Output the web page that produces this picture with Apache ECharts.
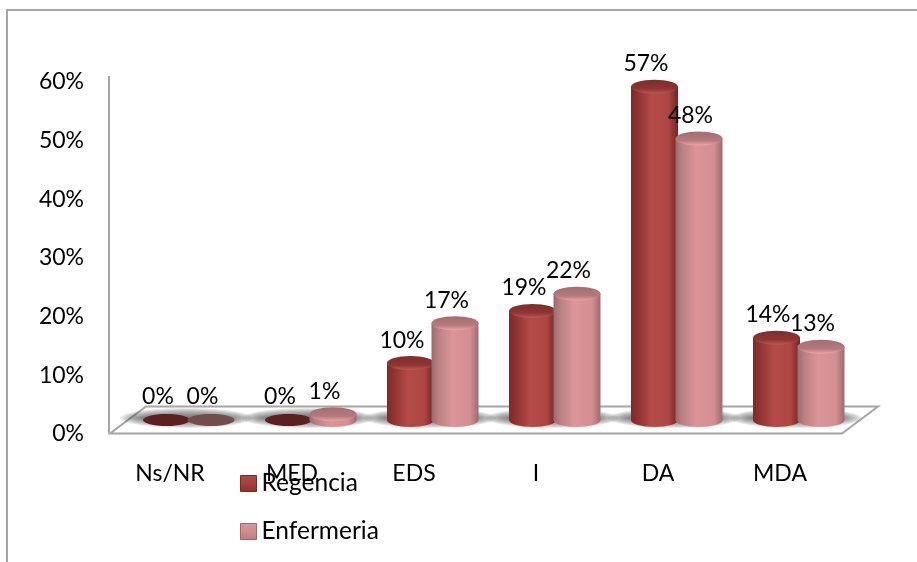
<!DOCTYPE html>
<html><head><meta charset="utf-8">
<style>html,body{margin:0;padding:0;background:#fff}#c{width:917px;height:562px}</style>
<script src="https://cdn.jsdelivr.net/npm/echarts@6/dist/echarts.min.js"></script>
</head><body><div id="c"></div>
<script>
const categories = ['Ns/NR','MED','EDS','I','DA','MDA'];
const regencia = [0,0,9.7,18.6,56.8,14];
const enfermeria = [0,1,16.5,21.5,48,12.5];
const yTicks = [0,10,20,30,40,50,60];

const FONT = 'Lato';
const RX = 23.5, RY = 7, LIFT = 12;
const GREY = '#a6a6a6';

function grad(stops){return new echarts.graphic.LinearGradient(0,0,1,0,stops.map(s=>({offset:s[0],color:s[1]})));}
function vgrad(stops){return new echarts.graphic.LinearGradient(0,0,0,1,stops.map(s=>({offset:s[0],color:s[1]})));}

const palette = {
  reg:{dx:-3.5, body:[[0,'#7c2a29'],[0.12,'#8c3230'],[0.45,'#b54b48'],[0.8,'#ad4643'],[1,'#702524']],
       top:[[0,'#822c2b'],[0.65,'#8f3533'],[1,'#bb5a56']], flat:'#5d2020'},
  enf:{dx:41, body:[[0,'#9c6a6c'],[0.14,'#b98083'],[0.45,'#dc9699'],[0.82,'#d48e91'],[1,'#9d6c6e']],
       top:[[0,'#a56c6f'],[0.65,'#b57a7d'],[1,'#eba4a6']], flat:'#744c4e'}
};

function cylinder(p){
  return function(params, api){
    const v = api.value(1);
    const base = api.coord([api.value(0),0]);
    const top = api.coord([api.value(0),v]);
    const cx = base[0]+p.dx, by = base[1]-LIFT, ty = top[1]-LIFT;
    const children = [];
    if(v>0){
      children.push({type:'ellipse',shape:{cx:cx,cy:by,rx:RX,ry:RY},style:{fill:grad(p.body)}});
      children.push({type:'rect',shape:{x:cx-RX,y:ty,width:RX*2,height:by-ty},style:{fill:grad(p.body)}});
      children.push({type:'ellipse',shape:{cx:cx,cy:ty,rx:RX,ry:RY},style:{fill:vgrad(p.top)}});
    }else{
      children.push({type:'ellipse',shape:{cx:cx,cy:by,rx:RX,ry:RY-1},style:{fill:p.flat}});
    }
    children.push({type:'text',style:{text:Math.round(v)+'%',x:cx-8.5,y:ty-23,align:'center',verticalAlign:'middle',
      font:'23px '+FONT,fill:'#000'},z2:50});
    return {type:'group',children:children};
  };
}
function shadow(params, api){
  const b = api.coord([api.value(0),0]);
  const children = [];
  const LAYERS = 10;
  for(let k=0;k<LAYERS;k++){
    children.push({type:'ellipse',
      shape:{cx:b[0]+16,cy:b[1]-14,rx:66-k*2.6,ry:10-k*0.9},
      style:{fill:'rgba(70,70,70,0.11)'}});
  }
  return {type:'group',children:children};
}

const chart = echarts.init(document.getElementById('c'),null,{renderer:'canvas'});
chart.setOption({
  animation:false,
  backgroundColor:'#fff',
  grid:{left:109,top:80,width:732,height:352,containLabel:false},
  xAxis:{type:'category',data:categories,axisLine:{show:false},axisTick:{show:false},
    axisLabel:{fontFamily:FONT,fontSize:23,color:'#000',margin:30},splitLine:{show:false}},
  yAxis:{type:'value',min:0,max:60,interval:10,axisLine:{show:true,lineStyle:{color:GREY,width:2}},
    axisTick:{show:false},splitLine:{show:false},
    axisLabel:{fontFamily:FONT,fontSize:23,color:'#000',margin:25,verticalAlign:'top',lineHeight:4,formatter:v=>yTicks.includes(v)?v+'%':''}},
  legend:{orient:'vertical',left:240,top:471,padding:0,itemWidth:16,itemHeight:16,itemGap:23,icon:'rect',
    textStyle:{fontFamily:FONT,fontSize:24.5,lineHeight:20,color:'#000',padding:[0,0,4,0]},
    data:[
      {name:'Regencia',itemStyle:{color:vgrad([[0,'#b04a47'],[0.5,'#a83f3c'],[1,'#8c3230']]),borderColor:'#7c2a29',borderWidth:1}},
      {name:'Enfermeria',itemStyle:{color:vgrad([[0,'#d8979a'],[0.5,'#d08c8f'],[1,'#b98083']]),borderColor:'#9c6a6c',borderWidth:1}}
    ]},
  graphic:[
    {type:'rect',shape:{x:7,y:10,width:940,height:600},style:{fill:'none',stroke:GREY,lineWidth:2},z:0},
    {type:'polygon',shape:{points:[[110,433.5],[146,406.5],[878,406.5],[842,433.5]]},style:{fill:'#fff',stroke:GREY,lineWidth:2},z:0},
    {type:'line',shape:{x1:109,y1:76,x2:109,y2:81},style:{stroke:GREY,lineWidth:2},z:0}
  ],
  series:[
    {type:'custom',name:'sombra',z:1,silent:true,coordinateSystem:'cartesian2d',clip:false,
      renderItem:shadow,encode:{x:0,y:1},data:categories.map((c,i)=>[i,0])},
    {type:'custom',name:'Regencia',z:3,coordinateSystem:'cartesian2d',clip:false,
      itemStyle:{color:'#a83f3c'},renderItem:cylinder(palette.reg),encode:{x:0,y:1},
      data:regencia.map((v,i)=>[i,v])},
    {type:'custom',name:'Enfermeria',z:4,coordinateSystem:'cartesian2d',clip:false,
      itemStyle:{color:'#d08c8f'},renderItem:cylinder(palette.enf),encode:{x:0,y:1},
      data:enfermeria.map((v,i)=>[i,v])}
  ]
});
</script></body></html>
